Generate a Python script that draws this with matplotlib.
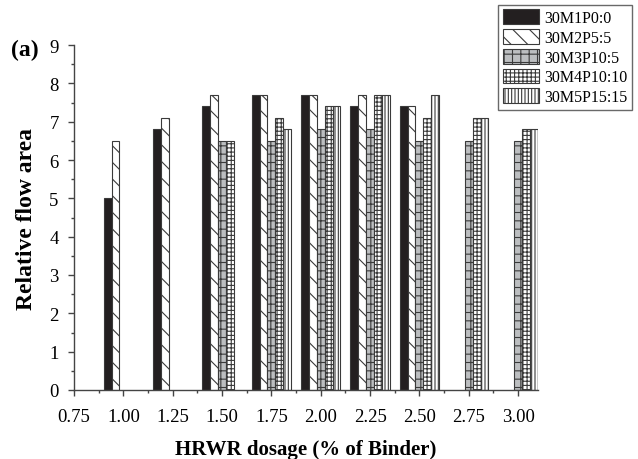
import numpy as np
import matplotlib.pyplot as plt
from matplotlib.ticker import MultipleLocator

plt.rcParams['font.family'] = ['Liberation Serif', 'DejaVu Serif']
plt.rcParams['hatch.linewidth'] = 0.8

nan = np.nan
dosage = [1.00, 1.25, 1.50, 1.75, 2.00, 2.25, 2.50, 2.75, 3.00]
mixes = ['30M1P0:0', '30M2P5:5', '30M3P10:5', '30M4P10:10', '30M5P15:15']
m1 = [5.0, 6.8, 7.4, 7.7, 7.7, 7.4, 7.4, nan, nan]
m2 = [6.5, 7.1, 7.7, 7.7, 7.7, 7.7, 7.4, nan, nan]
m3 = [nan, nan, 6.5, 6.5, 6.8, 6.8, 6.5, 6.5, 6.5]
m4 = [nan, nan, 6.5, 7.1, 7.4, 7.7, 7.1, 7.1, 6.8]
m5 = [nan, nan, nan, 6.8, 7.4, 7.7, 7.7, 7.1, 6.8]

fig = plt.figure(figsize=(6.38, 4.60), dpi=100)
ax = fig.add_axes([0.116, 0.150, 0.727, 0.750])

width = 0.04
offsets = [-0.08, -0.04, 0.0, 0.04, 0.08]
faces = ['#231f20', 'white', '#bcbec0', 'white', 'white']
hatches = [None, '\\\\', '++', '++++', '|||||']
x = np.array(dosage)
for vals, off, fc, h, name in zip([m1, m2, m3, m4, m5], offsets, faces,
                                  hatches, mixes):
    ax.bar(x + off, vals, width=width, color=fc, hatch=h,
           edgecolor='#3a3a3a', linewidth=0.8, label=name)

ax.set_xlim(0.75, 3.10)
ax.set_ylim(0, 9)
ax.set_xticks(np.arange(0.75, 3.01, 0.25))
ax.set_xticklabels(['%.2f' % v for v in np.arange(0.75, 3.01, 0.25)])
ax.xaxis.set_minor_locator(MultipleLocator(0.125))
ax.yaxis.set_major_locator(MultipleLocator(1))
ax.yaxis.set_minor_locator(MultipleLocator(0.5))
ax.spines['top'].set_visible(False)
ax.spines['right'].set_visible(False)
for s in ['left', 'bottom']:
    ax.spines[s].set_color('#444444')
    ax.spines[s].set_linewidth(1.0)
ax.tick_params(which='major', direction='out', length=4, width=1,
               color='#444444', labelsize=13.5)
ax.tick_params(which='minor', direction='out', length=2.5, width=1,
               color='#444444')
ax.tick_params(axis='x', pad=9)
ax.tick_params(axis='y', pad=7)

ax.set_xlabel('HRWR dosage (% of Binder)', fontsize=15, fontweight='bold',
              labelpad=10)
ax.set_ylabel('Relative flow area', fontsize=17, fontweight='bold',
              labelpad=9)
fig.text(0.018, 0.891, '(a)', fontsize=17, fontweight='bold', va='center')

fig.legend(loc='upper right', bbox_to_anchor=(0.991, 0.988), fontsize=11.5,
           frameon=True, fancybox=False, edgecolor='#444444',
           handlelength=2.3, handleheight=1.05, handletextpad=0.3,
           labelspacing=0.18, borderpad=0.3, borderaxespad=0.0)

fig.savefig('out.png', dpi=100)
